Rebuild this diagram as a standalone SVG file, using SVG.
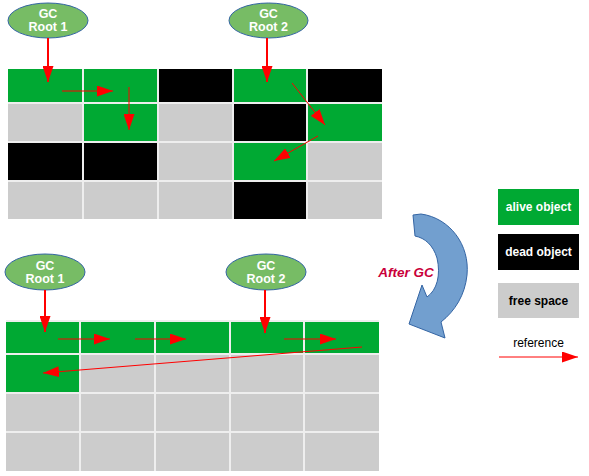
<svg xmlns="http://www.w3.org/2000/svg" width="589" height="476" viewBox="0 0 589 476">
<style>
.g{fill:#00a933}.b{fill:#000}.f{fill:#cccccc}
.grid{stroke:#eeeeee;stroke-width:2;fill:none}
.root{fill:#77bc65;stroke:#3465a4;stroke-width:1}
.rt{font-family:"Liberation Sans",Arial,sans-serif;font-weight:bold;font-size:12.5px;fill:#fff;text-anchor:middle}
.lg{font-family:"Liberation Sans",Arial,sans-serif;font-weight:bold;font-size:12px;text-anchor:middle}
.ref{stroke:#ff0000;fill:none}
.thick{stroke-width:2}
.thin{stroke-width:1}
</style>
<defs>
<marker id="ah" markerUnits="userSpaceOnUse" markerWidth="16" markerHeight="11" refX="16" refY="5.5" orient="auto">
<path d="M0,0 L16,5.5 L0,11 z" fill="#ff0000"/>
</marker>
</defs>
<g id="top-grid">
<rect class="g" x="8" y="69" width="75" height="34"/>
<rect class="g" x="83" y="69" width="75" height="34"/>
<rect class="b" x="158" y="69" width="75" height="34"/>
<rect class="g" x="233" y="69" width="74" height="34"/>
<rect class="b" x="307" y="69" width="75" height="34"/>
<rect class="f" x="8" y="103" width="75" height="39"/>
<rect class="g" x="83" y="103" width="75" height="39"/>
<rect class="f" x="158" y="103" width="75" height="39"/>
<rect class="b" x="233" y="103" width="74" height="39"/>
<rect class="g" x="307" y="103" width="75" height="39"/>
<rect class="b" x="8" y="142" width="75" height="39"/>
<rect class="b" x="83" y="142" width="75" height="39"/>
<rect class="f" x="158" y="142" width="75" height="39"/>
<rect class="g" x="233" y="142" width="74" height="39"/>
<rect class="f" x="307" y="142" width="75" height="39"/>
<rect class="f" x="8" y="181" width="75" height="38"/>
<rect class="f" x="83" y="181" width="75" height="38"/>
<rect class="f" x="158" y="181" width="75" height="38"/>
<rect class="b" x="233" y="181" width="74" height="38"/>
<rect class="f" x="307" y="181" width="75" height="38"/>
<path class="grid" d="M83,69V219M158,69V219M233,69V219M307,69V219M8,103H382M8,142H382M8,181H382"/>
</g>
<g id="bottom-grid">
<rect class="g" x="6" y="321" width="373" height="33"/>
<rect class="g" x="6" y="354" width="74" height="39"/>
<rect class="f" x="80" y="354" width="299" height="39"/>
<rect class="f" x="6" y="393" width="373" height="78"/>
<path class="grid" d="M6,321H379M80,321V471M155,321V471M230,321V471M304,321V471M6,354H379M6,393H379M6,432H379"/>
</g>
<g id="gc-root-1-top">
<ellipse class="root" cx="48" cy="20.5" rx="40" ry="17.5"/>
<text class="rt" x="48" y="18">GC</text>
<text class="rt" x="48" y="31">Root 1</text>
</g>
<g id="gc-root-2-top">
<ellipse class="root" cx="268.5" cy="20.5" rx="39.5" ry="17.5"/>
<text class="rt" x="268.5" y="18">GC</text>
<text class="rt" x="268.5" y="31">Root 2</text>
</g>
<g id="gc-root-1-bottom">
<ellipse class="root" cx="45" cy="272" rx="40" ry="18"/>
<text class="rt" x="45" y="269.5">GC</text>
<text class="rt" x="45" y="283">Root 1</text>
</g>
<g id="gc-root-2-bottom">
<ellipse class="root" cx="266" cy="272" rx="40" ry="18"/>
<text class="rt" x="266" y="269.5">GC</text>
<text class="rt" x="266" y="283">Root 2</text>
</g>
<g id="after-gc">
<path d="M413,215 L421,214 C450,218 470,245 467,275 C465,295 455,311 441,322 L445,338 L409,324 L422,285 L427,297 C437,290 441,275 437,258 C433,245 425,238 415,236 Z" fill="#729fcf" stroke="#3465a4" stroke-width="1"/>
<text x="406" y="277" font-family="'Liberation Sans',Arial,sans-serif" font-weight="bold" font-style="italic" font-size="13.5px" fill="#c9003a" text-anchor="middle">After GC</text>
</g>
<g id="legend">
<rect class="g" x="498" y="189" width="81" height="36"/>
<text class="lg" x="538.5" y="211" fill="#fff">alive object</text>
<rect class="b" x="498" y="234" width="81" height="36"/>
<text class="lg" x="538.5" y="256" fill="#fff">dead object</text>
<rect class="f" x="498" y="283" width="81" height="35"/>
<text class="lg" x="538.5" y="305" fill="#000">free space</text>
<text x="538.5" y="347" font-family="'Liberation Sans',Arial,sans-serif" font-size="12px" fill="#000" text-anchor="middle">reference</text>
</g>
<g id="connectors">
<line class="ref thick" x1="48" y1="38" x2="48" y2="82" marker-end="url(#ah)"/>
<line class="ref thick" x1="267" y1="38" x2="267" y2="82" marker-end="url(#ah)"/>
<line class="ref thin" x1="62" y1="91" x2="113" y2="91" marker-end="url(#ah)"/>
<line class="ref thin" x1="129" y1="87" x2="129" y2="130" marker-end="url(#ah)"/>
<line class="ref thin" x1="292" y1="83" x2="325" y2="125" marker-end="url(#ah)"/>
<line class="ref thin" x1="318" y1="136" x2="274" y2="161" marker-end="url(#ah)"/>
<line class="ref thick" x1="45" y1="290" x2="45" y2="332" marker-end="url(#ah)"/>
<line class="ref thick" x1="265" y1="290" x2="265" y2="333" marker-end="url(#ah)"/>
<line class="ref thin" x1="58" y1="339" x2="110" y2="339" marker-end="url(#ah)"/>
<line class="ref thin" x1="135" y1="339" x2="186" y2="339" marker-end="url(#ah)"/>
<line class="ref thin" x1="284" y1="339" x2="336" y2="339" marker-end="url(#ah)"/>
<line class="ref thin" x1="362" y1="347" x2="43" y2="373" marker-end="url(#ah)"/>
<line class="ref thin" x1="499" y1="357" x2="578" y2="357" marker-end="url(#ah)"/>
</g>
</svg>
